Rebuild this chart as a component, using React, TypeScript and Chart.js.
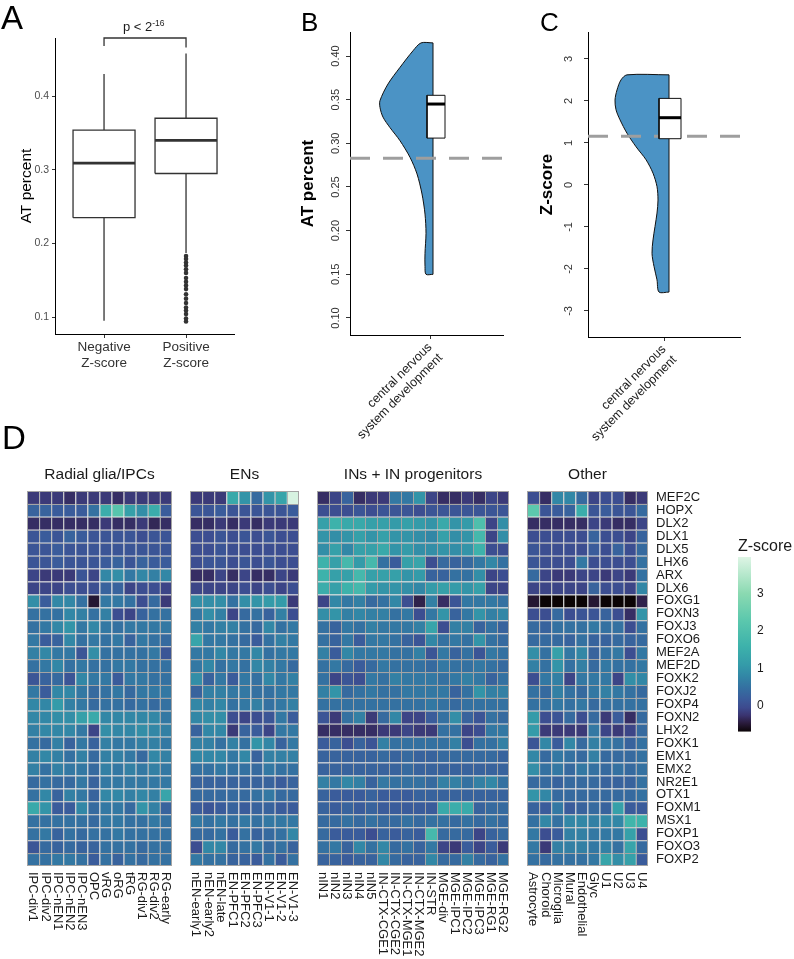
import React, { useEffect, useRef } from 'react';
import { Chart, registerables } from 'chart.js';

Chart.register(...registerables);

const FONT = '"Liberation Sans", Arial, Helvetica, sans-serif';
Chart.defaults.font.family = FONT;
Chart.defaults.color = '#1a1a1a';

// ---------------- Panel A : boxplot ----------------
const aGroups = [['Negative', 'Z-score'], ['Positive', 'Z-score']];
const aQ1 = [0.235, 0.295];
const aMedian = [0.309, 0.34];
const aQ3 = [0.354, 0.37];
const aWhiskerLow = [0.095, 0.187];
const aWhiskerHigh = [0.43, 0.458];
const aOutliersPositive = [0.183, 0.179, 0.174, 0.17, 0.165, 0.16, 0.153, 0.148, 0.143, 0.138, 0.131, 0.125, 0.119, 0.113, 0.109, 0.104, 0.098, 0.094];
const aTicks = [0.1, 0.2, 0.3, 0.4];
const aBracketY = [0.468, 0.479, 0.479, 0.466];
const aBracketX = [1, 1, 2, 2];

// ---------------- Panel B : AT percent violin ----------------
const categoryLabel = ['central nervous', 'system development'];
const bTicks = [0.1, 0.15, 0.2, 0.25, 0.3, 0.35, 0.4];
const bViolinAt = [0.415, 0.406, 0.387, 0.368, 0.349, 0.341, 0.33, 0.318, 0.303, 0.284, 0.265, 0.242, 0.219, 0.197, 0.174, 0.159, 0.15];
const bViolinDensity = [0.12, 0.2, 0.33, 0.45, 0.53, 0.53, 0.5, 0.43, 0.33, 0.23, 0.16, 0.11, 0.08, 0.07, 0.08, 0.08, 0.07];
const bBox = [0.306, 0.345, 0.355];
const bReference = 0.283;

// ---------------- Panel C : Z-score violin ----------------
const cTicks = [-3, -2, -1, 0, 1, 2, 3];
const cViolinAt = [2.62, 2.5, 2.26, 2.02, 1.79, 1.55, 1.23, 0.91, 0.6, 0.28, -0.04, -0.36, -0.67, -0.99, -1.31, -1.63, -1.94, -2.26, -2.55];
const cViolinDensity = [0.42, 0.48, 0.52, 0.54, 0.53, 0.49, 0.42, 0.33, 0.23, 0.16, 0.12, 0.11, 0.12, 0.14, 0.16, 0.17, 0.15, 0.12, 0.1];
const cBox = [1.1, 1.6, 2.06];
const cReference = 1.16;

// ---------------- Panel D : heatmap ----------------
const genes = ['MEF2C', 'HOPX', 'DLX2', 'DLX1', 'DLX5', 'LHX6', 'ARX', 'DLX6', 'FOXG1', 'FOXN3', 'FOXJ3', 'FOXO6', 'MEF2A', 'MEF2D', 'FOXK2', 'FOXJ2', 'FOXP4', 'FOXN2', 'LHX2', 'FOXK1', 'EMX1', 'EMX2', 'NR2E1', 'OTX1', 'FOXM1', 'MSX1', 'FOXP1', 'FOXO3', 'FOXP2'];

const radialCols = ['IPC-div1', 'IPC-div2', 'IPC-nEN1', 'IPC-nEN2', 'IPC-nEN3', 'OPC', 'vRG', 'oRG', 'tRG', 'RG-div1', 'RG-div2', 'RG-early'];
const radialValues = [
  [-0.2, -0.2, -0.2, -0.3, -0.2, -0.2, -0.2, -0.3, -0.2, -0.2, -0.2, -0.2],
  [0.3, 0.3, 0.2, 0.2, 0.2, 0.5, 1.5, 2.2, 1.2, 0.9, 1.5, 0.2],
  [-0.3, -0.3, -0.3, -0.3, -0.3, -0.3, -0.2, -0.3, -0.3, -0.2, -0.35, -0.3],
  [0.1, 0.2, 0.1, 0.3, 0.2, 0.1, 0.1, 0.1, 0.1, 0.0, 0.1, 0.1],
  [0.1, 0.1, 0.2, 0.1, 0.1, 0.1, 0.1, 0.1, 0.1, 0.1, 0.1, 0.1],
  [0.1, 0.1, 0.2, 0.1, 0.1, 0.1, 0.2, 0.3, 0.1, 0.3, 0.2, 0.2],
  [-0.1, -0.2, -0.2, -0.2, 0.1, -0.1, 0.8, 0.9, 0.6, 0.8, 0.7, 0.8],
  [-0.1, -0.1, -0.1, 0.0, 0.0, 0.0, 0.3, 0.3, -0.1, 0.0, 0.0, -0.1],
  [0.9, 0.2, 0.8, 0.8, 0.5, -0.5, 0.6, 0.6, 0.5, 0.0, 0.4, -0.2],
  [0.5, 0.5, 0.5, 0.8, 0.7, 0.5, 0.7, 0.0, -0.1, 0.3, 0.5, 0.5],
  [0.5, 0.6, 0.8, 1.0, 0.6, 0.8, 0.6, 0.5, 0.6, 0.6, 0.6, 0.6],
  [0.6, 0.2, 0.3, 0.8, 0.5, 0.6, 0.5, 0.6, 0.3, 0.6, 0.5, 0.4],
  [0.7, 0.8, 0.6, 0.6, 0.1, 0.9, 0.5, 0.5, 0.5, 0.5, 0.6, 0.1],
  [0.5, 0.6, 0.8, 0.5, 0.6, 0.5, 0.5, 0.6, 0.6, 0.5, 0.5, 0.5],
  [0.1, 0.3, 0.4, 0.1, 0.8, 0.6, 0.6, 0.2, 0.6, 0.6, 0.5, 0.5],
  [0.6, 0.2, 0.8, 0.8, 0.6, 0.4, 0.5, 0.6, 0.4, 0.6, 0.6, 0.6],
  [0.8, 0.8, 1.1, 0.7, 0.6, 0.4, 0.5, 0.5, 0.4, 0.5, 0.4, 0.5],
  [0.8, 0.8, 0.9, 0.9, 1.2, 1.4, 0.8, 0.8, 0.8, 0.8, 0.8, 0.6],
  [0.7, 0.8, 0.8, 0.8, 0.6, -0.1, 0.9, 0.8, 0.8, 0.9, 0.8, 0.7],
  [0.5, 0.4, 0.7, 0.3, 0.6, 0.3, 0.7, 0.6, 0.6, 0.7, 0.7, 0.6],
  [0.7, 0.8, 0.7, 0.5, 0.7, 0.4, 0.7, 0.7, 0.6, 0.4, 0.8, 0.7],
  [0.7, 0.5, 0.7, 0.6, 0.6, 0.4, 0.7, 0.6, 0.7, 0.6, 0.7, 0.6],
  [0.4, 0.5, 0.4, 0.4, 0.6, 0.3, 0.6, 0.6, 0.6, 0.6, 0.6, 0.6],
  [0.5, 0.8, 0.3, 0.7, 0.6, 0.3, 0.8, 0.8, 0.7, 0.8, 0.7, 1.3],
  [1.4, 1.0, 0.2, 0.2, 0.8, 0.4, 0.6, 0.6, 0.4, 1.0, 0.7, 0.3],
  [0.5, 0.5, 0.5, 0.5, 0.5, 0.4, 0.6, 0.6, 0.5, 0.5, 0.6, 0.5],
  [0.5, 0.6, 0.3, 0.5, 0.4, 0.5, 0.5, 0.6, 0.5, 0.5, 0.5, 0.5],
  [0.1, 0.4, 0.3, 0.4, 0.3, 0.3, 0.5, 0.5, 0.5, 0.4, 0.5, 0.5],
  [0.5, 0.5, 0.6, 0.6, 0.5, 0.2, 0.5, 0.3, 0.5, 0.4, 0.5, 0.5],
];

const enCols = ['nEN-early1', 'nEN-early2', 'nEN-late', 'EN-PFC1', 'EN-PFC2', 'EN-PFC3', 'EN-V1-1', 'EN-V1-2', 'EN-V1-3'];
const enValues = [
  [-0.2, -0.2, -0.2, 1.4, 1.0, 0.4, 1.0, 1.3, 3.9],
  [0.1, 0.1, 0.2, 0.1, 0.1, 0.1, 0.1, 0.1, 0.2],
  [-0.3, -0.3, -0.2, -0.3, -0.2, -0.3, -0.2, -0.2, -0.2],
  [0.0, 0.0, 0.1, 0.0, 0.1, 0.0, 0.1, 0.0, 0.0],
  [0.0, 0.0, 0.1, 0.0, 0.0, 0.0, 0.0, 0.0, 0.0],
  [0.0, 0.1, 0.1, 0.0, 0.1, 0.0, 0.1, 0.0, 0.0],
  [-0.3, -0.3, -0.1, -0.3, -0.1, -0.3, -0.3, -0.1, -0.2],
  [-0.1, -0.1, -0.1, -0.1, 0.0, -0.1, 0.0, -0.1, 0.0],
  [0.9, 0.9, 0.9, 0.5, 0.9, 1.0, 1.1, 1.1, -0.2],
  [0.6, 0.9, 0.7, -0.1, 0.4, 0.5, 0.3, 0.7, 0.0],
  [0.7, 0.6, 0.7, 0.7, 0.5, 0.4, 0.8, 0.5, 0.6],
  [1.3, 0.6, 0.6, 0.5, 0.4, 0.2, 0.5, 0.7, 0.6],
  [0.6, 0.6, 0.8, 0.6, 0.6, 0.8, 0.5, 0.6, 0.6],
  [0.6, 0.8, 0.5, 0.6, 0.5, 0.8, 0.7, 0.6, 0.4],
  [0.9, 0.3, 0.6, 0.2, 0.6, 0.5, 0.8, 0.6, 0.7],
  [0.3, 0.7, 0.7, 0.6, 0.6, 0.5, 0.5, 0.6, 0.6],
  [0.8, 0.7, 0.8, 0.5, 0.6, 0.7, 0.5, 0.6, 0.7],
  [0.8, 0.9, 0.9, 0.0, -0.1, 0.0, 0.1, 0.6, 0.2],
  [0.3, 0.8, 0.8, -0.2, 0.3, 0.2, -0.1, 0.6, 0.6],
  [0.7, 0.7, 0.5, 0.7, 0.5, 1.0, 0.8, 0.3, 0.6],
  [0.8, 0.8, 0.8, 0.6, 0.8, 0.3, 0.7, 0.7, 0.7],
  [0.5, 0.5, 0.6, 0.5, 0.5, 0.4, 0.6, 0.5, 0.5],
  [0.3, 0.3, 0.3, 0.3, 0.3, 0.3, 0.3, 0.2, 0.3],
  [0.4, 0.4, 0.4, 0.4, 0.4, 0.5, 0.6, 0.4, 0.4],
  [0.2, 0.1, 0.2, 0.3, 0.2, 0.3, 0.3, 0.2, 0.2],
  [0.6, 0.5, 0.6, 0.5, 0.6, 0.5, 0.6, 0.6, 0.6],
  [0.4, 0.4, 0.5, 0.2, 0.5, 0.3, 0.4, 0.5, 0.8],
  [0.0, 0.8, 0.8, 0.4, 0.5, 0.6, 0.4, 0.5, 0.3],
  [0.6, 0.5, 0.5, 0.3, 0.3, 0.2, 0.5, 0.2, 0.5],
];

const inCols = ['nIN1', 'nIN2', 'nIN3', 'nIN4', 'nIN5', 'IN-CTX-CGE1', 'IN-CTX-CGE2', 'IN-CTX-MGE1', 'IN-CTX-MGE2', 'IN-STR', 'MGE-div', 'MGE-IPC1', 'MGE-IPC2', 'MGE-IPC3', 'MGE-RG1', 'MGE-RG2'];
const inValues = [
  [-0.3, -0.1, 0.3, -0.3, -0.2, -0.2, 0.6, 0.6, 1.0, -0.1, -0.3, -0.3, -0.2, -0.3, -0.1, -0.2],
  [0.0, 0.0, 0.0, 0.1, 0.0, 0.1, 0.1, 0.1, 0.0, 0.1, 0.1, 0.1, 0.1, 0.1, 0.1, 0.1],
  [1.2, 1.6, 1.4, 1.4, 1.2, 1.2, 1.1, 1.2, 1.1, 1.0, 1.4, 1.0, 1.1, 2.0, -0.1, 0.9],
  [1.0, 0.9, 1.0, 1.2, 1.0, 1.2, 1.0, 1.0, 0.9, 0.8, 1.2, 0.9, 1.0, 1.8, -0.1, 0.9],
  [0.9, 1.2, 0.8, 1.2, 1.2, 1.4, 1.0, 1.1, 0.9, 0.9, 1.0, 0.9, 1.0, 1.6, 0.0, 0.0],
  [1.6, 1.2, 1.8, 1.1, 1.8, 0.5, 0.2, 1.2, 1.3, 0.0, 0.4, 0.3, 0.4, 0.6, 0.8, 0.5],
  [1.6, 1.2, 1.2, 1.8, 1.2, 1.2, 1.2, 1.0, 1.1, 0.3, 0.3, 0.5, 0.5, 0.9, -0.1, 0.0],
  [1.5, 1.2, 1.6, 1.8, 1.1, 1.0, 1.0, 0.9, 0.8, 1.1, 1.2, 1.1, 1.0, 1.2, -0.1, -0.1],
  [-0.1, 0.8, 0.6, 0.7, 0.4, 0.5, 0.8, 0.0, -0.4, 0.7, -0.3, 0.1, 0.6, 0.6, 0.6, 0.5],
  [0.9, 1.0, 0.7, 0.8, 0.7, 0.7, 0.5, 0.6, 0.0, 0.6, 1.0, 0.3, 0.6, 1.0, 0.7, 0.8],
  [0.5, 0.3, 0.6, 0.5, 0.7, 0.6, 0.6, 0.6, 0.7, 1.3, 0.0, 0.7, 0.7, 0.3, 0.5, 0.3],
  [0.5, 0.3, 0.6, 0.2, 0.6, 0.6, 0.5, 0.3, 0.1, 0.8, 0.5, 0.6, 0.5, 1.0, 0.5, 0.4],
  [0.7, 0.2, 0.8, 0.6, 0.6, 0.6, 0.5, 0.5, 0.7, 0.1, 0.6, 0.3, 0.5, 0.1, 0.6, 0.5],
  [0.5, 0.6, 0.4, 0.2, 0.4, 0.6, 0.5, 0.5, 0.5, 0.4, 0.6, 0.5, 0.5, 0.6, 0.5, 0.4],
  [0.5, -0.1, 0.1, 0.0, 0.6, 0.5, 0.7, 0.6, 0.6, 0.6, 0.5, 0.6, 0.7, 0.6, 0.3, 0.5],
  [0.7, 1.0, 0.4, 0.5, 0.6, 0.5, 0.5, 0.6, 0.6, 0.6, 0.6, 0.3, 0.5, 1.0, 0.7, 0.7],
  [0.5, 0.5, 0.5, 0.5, 0.5, 0.5, 0.5, 0.5, 0.5, 0.6, 0.5, 0.4, 0.5, 0.5, 0.5, 0.5],
  [0.1, -0.2, 0.5, 0.7, -0.2, 0.4, 0.8, -0.1, -0.1, 0.2, 0.5, 0.9, 0.3, 0.1, 0.5, 0.4],
  [-0.3, -0.3, -0.3, -0.3, -0.3, -0.2, -0.2, -0.1, -0.2, -0.2, 0.5, 0.5, -0.1, 0.0, 0.6, 0.6],
  [0.2, 0.3, 0.0, 0.3, 0.1, 0.7, 0.5, 0.5, 0.5, 0.5, 0.5, 0.7, 0.0, 0.5, 0.5, 0.7],
  [0.3, 0.3, 0.3, 0.3, 0.3, 0.4, 0.3, 0.4, 0.3, 0.3, 0.4, 0.4, 0.4, 0.4, 0.4, 0.3],
  [0.3, 0.3, 0.3, 0.3, 0.3, 0.3, 0.3, 0.4, 0.3, 0.3, 0.3, 0.3, 0.3, 0.3, 0.3, 0.3],
  [0.7, 0.6, 0.8, 0.7, 0.3, 0.6, 0.5, 0.5, 0.5, 0.4, 0.7, 0.7, 0.5, 0.7, 0.8, 0.5],
  [0.3, 0.2, 0.2, 0.2, 0.3, 0.2, 0.2, 0.2, 0.3, 0.3, 0.3, 0.3, 0.3, 0.3, 0.3, 0.3],
  [0.3, 0.2, 0.3, 0.2, 0.3, 0.2, 0.2, 0.2, 0.2, 0.2, 1.4, 1.5, 1.4, 0.3, 0.4, 0.4],
  [0.4, 0.4, 0.5, 0.4, 0.5, 0.4, 0.4, 0.5, 0.4, 0.5, 0.5, 0.4, 0.5, 0.4, 0.5, 0.4],
  [0.4, 0.2, 0.2, 0.2, 0.0, 0.3, 0.2, 0.3, 0.2, 1.8, 0.4, 0.4, 0.4, -0.1, 0.3, 0.4],
  [0.5, 0.6, 0.3, 0.8, 0.5, 0.8, 0.4, 0.5, 0.3, 0.6, -0.1, -0.2, 0.2, -0.1, 0.2, -0.2],
  [0.3, 0.3, 0.2, 0.3, 0.3, 0.8, 0.4, 0.3, 0.3, 0.8, 0.4, 0.4, 0.7, 0.4, 0.3, 0.5],
];

const otherCols = ['Astrocyte', 'Choroid', 'Microglia', 'Mural', 'Endothelial', 'Glyc', 'U1', 'U2', 'U3', 'U4'];
const otherValues = [
  [0.0, -0.3, 0.8, 0.8, 0.4, -0.1, 0.0, 0.0, -0.3, -0.2],
  [2.3, 0.1, 0.2, 0.3, 1.5, 0.1, 0.2, 0.1, 0.1, 0.4],
  [-0.3, -0.3, -0.3, -0.3, -0.3, -0.1, -0.2, -0.3, -0.3, -0.1],
  [0.0, 0.0, 0.0, 0.0, 0.0, 0.3, 0.0, 0.0, -0.1, 0.3],
  [0.1, 0.0, 0.0, 0.0, 0.0, 0.2, 0.0, 0.3, 0.0, 0.4],
  [0.1, 0.0, 0.0, 0.0, 0.6, 0.0, 0.0, 0.0, 0.0, 0.5],
  [0.4, -0.1, -0.2, -0.2, -0.1, -0.1, -0.2, -0.1, -0.2, 0.5],
  [-0.1, -0.1, -0.1, -0.1, -0.1, 0.3, 0.0, 0.0, -0.1, 0.8],
  [-0.5, -0.7, -0.7, -0.7, -0.7, -0.5, -0.7, -0.7, -0.7, -0.4],
  [0.0, 0.0, 0.4, 0.0, 0.1, 0.1, 0.3, 0.0, -0.3, 1.0],
  [0.4, 0.3, 0.5, 0.5, 0.5, 0.6, 0.5, 0.5, 0.0, 0.5],
  [0.4, 0.4, 0.4, 0.3, 0.5, 0.3, 0.3, 0.4, 0.3, 0.4],
  [0.9, 0.5, 1.2, 0.6, 0.8, 0.3, 0.5, 0.6, 0.0, 0.6],
  [0.7, 0.5, 1.0, 0.5, 0.7, 0.4, 0.6, 0.5, 0.5, 0.6],
  [0.0, 0.6, 0.7, -0.1, 0.6, 0.6, 0.6, -0.1, 0.9, 0.8],
  [0.5, 0.4, 0.7, 0.5, 0.4, 0.6, 0.7, 0.6, 0.5, 0.4],
  [0.5, 0.5, 0.6, 0.5, 0.6, 0.4, 0.5, 0.5, 0.5, 0.5],
  [1.1, 0.0, 0.1, 0.4, 0.0, 0.4, -0.2, 0.2, -0.3, 0.4],
  [1.1, -0.2, -0.2, -0.2, -0.2, 0.6, -0.1, -0.2, -0.1, 0.4],
  [0.1, 0.8, 0.2, 0.8, 0.4, 0.7, 0.6, 0.5, 0.3, 0.5],
  [0.8, 0.4, 0.6, 0.5, 0.4, 0.7, 0.4, 0.4, 0.4, 0.5],
  [0.9, 0.5, 0.6, 0.4, 0.6, 0.5, 0.4, 0.5, 0.4, 0.5],
  [0.4, 0.4, 0.3, 0.4, 0.4, 0.4, 0.3, 0.3, 0.3, 0.5],
  [1.0, 0.8, 0.4, 0.4, 0.4, 0.4, 0.4, 0.4, 0.4, 0.5],
  [0.3, 0.2, 0.6, 0.2, 0.3, 0.4, 0.3, 1.2, 0.2, 0.2],
  [0.5, 0.8, 0.5, 0.8, 0.8, 0.7, 0.8, 0.8, 1.7, 1.6],
  [0.6, 0.0, 0.2, 0.7, 0.7, 0.6, 0.6, 0.6, 1.2, 0.0],
  [0.6, -0.2, 0.7, 0.7, 0.7, 0.6, 0.7, 0.5, 1.3, 0.4],
  [0.5, 0.4, 0.5, 0.5, 0.5, 0.6, 1.3, 0.9, 1.2, 0.2],
];

const zRange = [-0.69, 3.98];
const zTicks = [0, 1, 2, 3];

// ---------------- styling helpers ----------------
const GRID = '#a4a4a4';
const VIOLIN = '#4b93c5';
const zStops: [number, string][] = [
  [-0.7, '#0b0405'], [-0.45, '#2b1c3e'], [-0.25, '#3a3470'], [-0.05, '#3d4a8e'],
  [0.2, '#3a5c9b'], [0.5, '#3471a1'], [0.8, '#3287a6'], [1.1, '#349ba9'],
  [1.6, '#3db2ab'], [2.3, '#5cc8ad'], [3.0, '#8ad9b1'], [3.98, '#def5e5'],
];

function hexRgb(h: string) {
  return [parseInt(h.slice(1, 3), 16), parseInt(h.slice(3, 5), 16), parseInt(h.slice(5, 7), 16)];
}
function zColor(v: number) {
  if (v <= zStops[0][0]) return zStops[0][1];
  for (let i = 1; i < zStops.length; i++) {
    if (v <= zStops[i][0]) {
      const [v0, c0] = zStops[i - 1];
      const [v1, c1] = zStops[i];
      const t = (v - v0) / (v1 - v0);
      const a = hexRgb(c0), b = hexRgb(c1);
      const m = a.map((x, k) => Math.round(x + (b[k] - x) * t));
      return `rgb(${m[0]},${m[1]},${m[2]})`;
    }
  }
  return zStops[zStops.length - 1][1];
}

const base = { animation: false, responsive: false, devicePixelRatio: 1, events: [] as any[] };
const noLegend = { legend: { display: false }, tooltip: { enabled: false } };

function line(points: { x: number; y: number }[], extra: any = {}) {
  return { data: points, showLine: true, pointRadius: 0, borderColor: '#1a1a1a', borderWidth: 1, fill: false, tension: 0, ...extra };
}

// ---------------- chart configs ----------------
const BOX_HALF = 0.378;

function panelA() {
  const datasets: any[] = [];
  aGroups.forEach((_, i) => {
    const x = i + 1;
    datasets.push(line([
      { x: x - BOX_HALF, y: aQ1[i] }, { x: x + BOX_HALF, y: aQ1[i] }, { x: x + BOX_HALF, y: aQ3[i] },
      { x: x - BOX_HALF, y: aQ3[i] }, { x: x - BOX_HALF, y: aQ1[i] },
    ], { borderColor: '#333', borderWidth: 1.3 }));
    datasets.push(line([{ x: x - BOX_HALF, y: aMedian[i] }, { x: x + BOX_HALF, y: aMedian[i] }], { borderColor: '#333', borderWidth: 2.8 }));
    datasets.push(line([{ x, y: aQ3[i] }, { x, y: aWhiskerHigh[i] }], { borderColor: '#333', borderWidth: 1.3 }));
    datasets.push(line([{ x, y: aQ1[i] }, { x, y: aWhiskerLow[i] }], { borderColor: '#333', borderWidth: 1.3 }));
  });
  datasets.push({ data: aOutliersPositive.map((y) => ({ x: 2, y })), showLine: false, pointRadius: 2.3, pointBackgroundColor: '#333', pointBorderWidth: 0 });
  datasets.push(line(aBracketX.map((x, k) => ({ x, y: aBracketY[k] })), { borderColor: '#333', borderWidth: 1.3, clip: false }));
  return {
    type: 'line',
    data: { datasets },
    options: {
      ...base,
      layout: { padding: { top: 38, right: 11, left: 0, bottom: 0 } },
      plugins: noLegend,
      scales: {
        x: {
          type: 'linear', min: 0.402, max: 2.585,
          afterBuildTicks: (ax: any) => { ax.ticks = aGroups.map((_, i) => ({ value: i + 1 })); },
          ticks: { callback: (v: any) => aGroups[Math.round(v) - 1], font: { size: 13.5 }, color: '#333', padding: 1 },
          grid: { drawOnChartArea: false, drawTicks: true, tickLength: 4, color: '#333' },
          border: { display: true, color: '#000', width: 1 },
          afterFit: (s: any) => { s.height = 41; },
        },
        y: {
          type: 'linear', min: 0.077, max: 0.479,
          afterBuildTicks: (ax: any) => { ax.ticks = aTicks.map((v) => ({ value: v })); },
          ticks: { callback: (v: any) => Number(v).toFixed(1), font: { size: 10.5 }, color: '#4d4d4d', padding: 3 },
          grid: { drawOnChartArea: false, drawTicks: true, tickLength: 3, color: '#333' },
          border: { display: true, color: '#000', width: 1 },
          title: { display: true, text: 'AT percent', font: { size: 15.5 }, color: '#000', padding: { top: 17.7, bottom: 0 } },
          afterFit: (s: any) => { s.width = 55; },
        },
      },
    },
  };
}

function violinPanel(opts: {
  at: number[]; dens: number[]; box: number[]; ref: number; ticks: number[]; edge: number; boxL: number; boxR: number;
  xMin: number; xMax: number; yMin: number; yMax: number; title: string; digits: number;
  yWidth: number; xHeight: number; padRight: number; tickPad: number; titlePad: number;
}) {
  const { at, dens, box, edge } = opts;
  const shape = [{ x: edge, y: at[0] }, ...at.map((v, i) => ({ x: edge - dens[i], y: v })), { x: edge, y: at[at.length - 1] }];
  const datasets: any[] = [
    line(shape, { fill: 'shape', backgroundColor: VIOLIN, borderColor: '#111', borderWidth: 1, tension: 0.3, order: 5 }),
    line([{ x: edge, y: at[at.length - 1] }, { x: edge, y: at[0] }], { borderColor: '#111', borderWidth: 1, order: 4 }),
    line([{ x: opts.xMin, y: opts.ref }, { x: opts.xMax, y: opts.ref }], { borderColor: '#9e9e9e', borderWidth: 3, borderDash: [20, 13], order: 3 }),
    line([
      { x: opts.boxL, y: box[0] }, { x: opts.boxR, y: box[0] }, { x: opts.boxR, y: box[2] }, { x: opts.boxL, y: box[2] }, { x: opts.boxL, y: box[0] },
    ], { fill: 'shape', backgroundColor: '#fff', borderColor: '#111', borderWidth: 1, order: 2 }),
    line([{ x: opts.boxL, y: box[1] }, { x: opts.boxR, y: box[1] }], { borderColor: '#000', borderWidth: 3, order: 1 }),
  ];
  return {
    type: 'line',
    data: { datasets },
    options: {
      ...base,
      layout: { padding: { top: 32, right: opts.padRight, left: 0, bottom: 0 } },
      plugins: noLegend,
      scales: {
        x: {
          type: 'linear', min: opts.xMin, max: opts.xMax,
          afterBuildTicks: (ax: any) => { ax.ticks = [{ value: 0 }]; },
          ticks: { callback: () => categoryLabel, font: { size: 12.5 }, color: '#1a1a1a', minRotation: 45, maxRotation: 45, padding: 1 },
          grid: { drawOnChartArea: false, drawTicks: true, tickLength: 4, color: '#333' },
          border: { display: true, color: '#000', width: 1 },
          afterFit: (s: any) => { s.height = opts.xHeight; },
        },
        y: {
          type: 'linear', min: opts.yMin, max: opts.yMax,
          afterBuildTicks: (ax: any) => { ax.ticks = opts.ticks.map((v) => ({ value: v })); },
          ticks: { callback: (v: any) => Number(v).toFixed(opts.digits), font: { size: 11 }, color: '#333', minRotation: 90, maxRotation: 90, crossAlign: 'center', padding: opts.tickPad },
          grid: { drawOnChartArea: false, drawTicks: true, tickLength: 4, color: '#333' },
          border: { display: true, color: '#000', width: 1 },
          title: { display: true, text: opts.title, font: { size: 17, weight: 'bold' }, color: '#000', padding: { top: opts.titlePad, bottom: 0 } },
          afterFit: (s: any) => { s.width = opts.yWidth; },
        },
      },
    },
  };
}

const frame = {
  id: 'frame',
  afterDatasetsDraw(chart: any) {
    const { ctx, chartArea: a } = chart;
    ctx.save();
    ctx.strokeStyle = GRID;
    ctx.lineWidth = 1;
    ctx.strokeRect(a.left + 0.5, a.top + 0.5, a.right - a.left - 1, a.bottom - a.top - 1);
    ctx.restore();
  },
};

const colLabels = {
  id: 'colLabels',
  afterDraw(chart: any) {
    const { ctx, chartArea, scales } = chart;
    const xs = scales.x;
    ctx.save();
    ctx.font = `13px ${FONT}`;
    ctx.fillStyle = '#1a1a1a';
    ctx.textAlign = 'left';
    ctx.textBaseline = 'middle';
    (chart.data.labels as string[]).forEach((lab, i) => {
      ctx.save();
      ctx.translate(xs.getPixelForValue(i), chartArea.bottom + 6);
      ctx.rotate(Math.PI / 2);
      ctx.fillText(lab, 0, 0);
      ctx.restore();
    });
    ctx.restore();
  },
};

function heatmap(title: string, cols: string[], values: number[][], showGenes: boolean) {
  return {
    type: 'bar',
    data: {
      labels: cols,
      datasets: genes.map((g, r) => ({
        label: g,
        data: cols.map(() => 1),
        backgroundColor: values[r].map(zColor),
        borderColor: GRID,
        borderWidth: { top: 1, left: 1, right: 0, bottom: 0 },
        borderSkipped: false,
        barPercentage: 1,
        categoryPercentage: 1,
        inflateAmount: 0,
      })),
    },
    options: {
      ...base,
      layout: { padding: { top: 0, left: 0, right: 0, bottom: 93 } },
      plugins: {
        ...noLegend,
        title: { display: true, text: title, fullSize: false, font: { size: 15.5, weight: 'normal' }, color: '#1a1a1a', padding: { top: 10, bottom: 7.4 } },
      },
      scales: {
        x: { display: false, stacked: true },
        y: {
          display: showGenes, position: 'right', stacked: true, reverse: true, min: 0, max: genes.length,
          afterBuildTicks: (ax: any) => { ax.ticks = genes.map((_, i) => ({ value: i + 0.5 })); },
          ticks: { callback: (v: any) => genes[Math.floor(v)], font: { size: 13, lineHeight: 1 }, color: '#1a1a1a', padding: 8, autoSkip: false },
          grid: { display: false, drawTicks: false },
          border: { display: false },
          afterFit: (s: any) => { s.width = showGenes ? 55 : 0; },
        },
      },
    },
    plugins: [frame, colLabels],
  };
}

function colorbar() {
  return {
    type: 'bar',
    data: {
      labels: ['Z-score'],
      datasets: [{
        data: [zRange],
        barPercentage: 1,
        categoryPercentage: 1,
        borderWidth: 0,
        inflateAmount: 0,
        backgroundColor: (c: any) => {
          const chart = c.chart;
          const ys = chart.scales.y;
          if (!chart.chartArea || !ys) return '#3a5c9b';
          const y0 = ys.getPixelForValue(zRange[0]);
          const y1 = ys.getPixelForValue(zRange[1]);
          const g = chart.ctx.createLinearGradient(0, y0, 0, y1);
          zStops.forEach(([v, col]) => {
            const t = (v - zRange[0]) / (zRange[1] - zRange[0]);
            g.addColorStop(Math.min(1, Math.max(0, t)), col);
          });
          return g;
        },
      }],
    },
    options: {
      ...base,
      layout: { padding: { top: 27, left: 38, right: 0, bottom: 12 } },
      plugins: noLegend,
      scales: {
        x: { display: false },
        y: {
          position: 'right', min: zRange[0], max: zRange[1],
          afterBuildTicks: (ax: any) => { ax.ticks = zTicks.map((v) => ({ value: v })); },
          ticks: { font: { size: 12 }, color: '#1a1a1a', padding: 6 },
          grid: { display: false, drawTicks: false },
          border: { display: false },
          afterFit: (s: any) => { s.width = 43; },
        },
      },
    },
  };
}

// ---------------- components ----------------
function ChartBox({ left, top, width, height, make }: { left: number; top: number; width: number; height: number; make: () => any }) {
  const ref = useRef<HTMLCanvasElement>(null);
  useEffect(() => {
    const chart = new Chart(ref.current as HTMLCanvasElement, make());
    return () => chart.destroy();
  }, []);
  return <canvas ref={ref} width={width} height={height} style={{ position: 'absolute', left, top, width, height }} />;
}

const txt = (left: number, top: number, size: number, extra: any = {}) => ({
  position: 'absolute' as const, left, top, fontSize: size, lineHeight: 1, whiteSpace: 'nowrap' as const, fontFamily: FONT, color: '#000', ...extra,
});

export default function App() {
  return (
    <div style={{ position: 'absolute', left: 0, top: 0, width: 794, height: 959, background: '#fff', overflow: 'hidden' }}>
      <ChartBox left={0} top={0} width={245} height={375} make={panelA} />
      <ChartBox left={270} top={0} width={250} height={450} make={() => violinPanel({
        at: bViolinAt, dens: bViolinDensity, box: bBox, ref: bReference, ticks: bTicks, edge: 0.03, boxL: -0.03, boxR: 0.15,
        xMin: -0.8, xMax: 0.73, yMin: 0.0805, yMax: 0.4275, title: 'AT percent', digits: 2,
        yWidth: 80, xHeight: 115, padRight: 17, tickPad: -1, titlePad: 28,
      })} />
      <ChartBox left={520} top={0} width={274} height={450} make={() => violinPanel({
        at: cViolinAt, dens: cViolinDensity, box: cBox, ref: cReference, ticks: cTicks, edge: 0.05, boxL: -0.05, boxR: 0.17,
        xMin: -0.76, xMax: 0.76, yMin: -3.62, yMax: 3.64, title: 'Z-score', digits: 0,
        yWidth: 68, xHeight: 113, padRight: 54, tickPad: 10, titlePad: 16.8,
      })} />
      <ChartBox left={27} top={455} width={145} height={504} make={() => heatmap('Radial glia/IPCs', radialCols, radialValues, false)} />
      <ChartBox left={190} top={455} width={109} height={504} make={() => heatmap('ENs', enCols, enValues, false)} />
      <ChartBox left={317} top={455} width={192} height={504} make={() => heatmap('INs + IN progenitors', inCols, inValues, false)} />
      <ChartBox left={527} top={455} width={176} height={504} make={() => heatmap('Other', otherCols, otherValues, true)} />
      <ChartBox left={700} top={530} width={94} height={215} make={colorbar} />

      <div style={txt(1, 1, 33)}>A</div>
      <div style={txt(301, 9, 26)}>B</div>
      <div style={txt(540, 9, 26)}>C</div>
      <div style={txt(2, 421, 33)}>D</div>
      <div style={txt(123, 20, 13, { color: '#1a1a1a' })}>p &lt; 2<span style={{ fontSize: 8.5, position: 'relative', top: -5 }}>-16</span></div>
      <div style={txt(738, 538, 16, { color: '#1a1a1a' })}>Z-score</div>
    </div>
  );
}
